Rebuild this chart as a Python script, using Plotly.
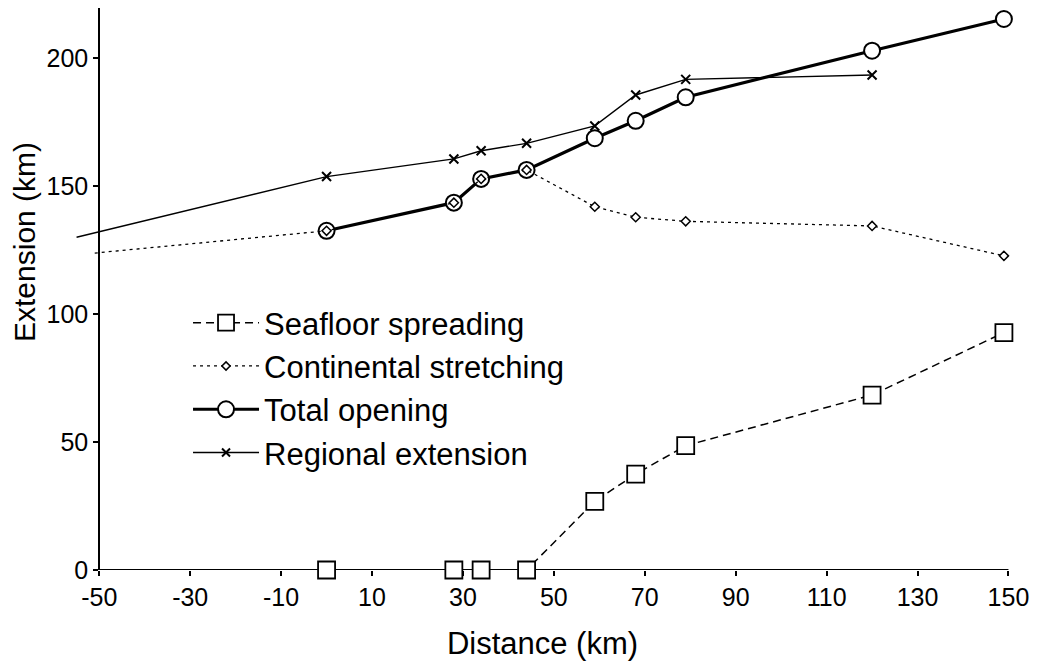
import plotly.graph_objects as go

# ---- data ----
x_seafloor = [0, 28, 34, 44, 59, 68, 79, 120, 149]
y_seafloor = [0, 0, 0, 0, 26.8, 37.5, 48.6, 68.4, 92.8]

x_continental = [-51, 0, 28, 34, 44, 59, 68, 79, 120, 149]
y_continental = [123.9, 132.6, 143.6, 152.9, 156.4, 142.0, 137.9, 136.3, 134.5, 122.8]

x_total = [0, 28, 34, 44, 59, 68, 79, 120, 149]
y_total = [132.6, 143.6, 152.9, 156.4, 168.8, 175.6, 184.8, 203.0, 215.4]

x_regional = [-55, 0, 28, 34, 44, 59, 68, 79, 120]
y_regional = [130.1, 153.8, 160.7, 163.9, 166.8, 173.6, 185.7, 191.8, 193.5]

x_ticks = [-50, -30, -10, 10, 30, 50, 70, 90, 110, 130, 150]
y_ticks = [0, 50, 100, 150, 200]

X_RANGE = [-56, 151]
Y_RANGE = [0, 219.7]
X_AXIS_START = -50
X_AXIS_END = 150

FONT = "Liberation Sans, Arial, Helvetica, sans-serif"


def sizes(xs, size):
    # no marker on line ends that run past the left axis
    return [0 if v < X_AXIS_START else size for v in xs]


fig = go.Figure()

fig.add_trace(go.Scatter(
    x=x_regional, y=y_regional, name="Regional extension", legendrank=4,
    mode="lines+markers",
    line=dict(color="black", width=1.4),
    marker=dict(symbol="x-thin", size=sizes(x_regional, 9), opacity=1,
                line=dict(color="black", width=2)),
    cliponaxis=False,
))
fig.add_trace(go.Scatter(
    x=x_total, y=y_total, name="Total opening", legendrank=3,
    mode="lines+markers",
    line=dict(color="black", width=3.2),
    marker=dict(symbol="circle", size=sizes(x_total, 16), color="white", opacity=1,
                line=dict(color="black", width=2)),
    cliponaxis=False,
))
fig.add_trace(go.Scatter(
    x=x_seafloor, y=y_seafloor, name="Seafloor spreading", legendrank=1,
    mode="lines+markers",
    line=dict(color="black", width=1.5, dash="8px,5px"),
    marker=dict(symbol="square", size=sizes(x_seafloor, 17), color="white", opacity=1,
                line=dict(color="black", width=1.8)),
    cliponaxis=False,
))
fig.add_trace(go.Scatter(
    x=x_continental, y=y_continental, name="Continental stretching", legendrank=2,
    mode="lines+markers",
    line=dict(color="black", width=1.3, dash="3px,4px"),
    marker=dict(symbol="diamond", size=sizes(x_continental, 7), color="white", opacity=1,
                line=dict(color="black", width=1.5)),
    cliponaxis=False,
))

# x-axis baseline spanning the labelled range
fig.add_shape(type="line", xref="x", yref="y", x0=X_AXIS_START, x1=X_AXIS_END, y0=0, y1=0,
              line=dict(color="black", width=2), layer="below")

yaxis_pos = (X_AXIS_START - X_RANGE[0]) / (X_RANGE[1] - X_RANGE[0])

fig.update_layout(
    width=1031, height=656, autosize=False,
    margin=dict(l=64, r=26, t=0, b=94, pad=0),
    paper_bgcolor="white", plot_bgcolor="white",
    font=dict(family=FONT, color="black", size=25),
    showlegend=True,
    legend=dict(
        x=0.1233, y=0.3238, xanchor="left", yanchor="middle",
        bgcolor="rgba(0,0,0,0)", borderwidth=0,
        font=dict(family=FONT, size=31, color="black"),
        tracegroupgap=0, itemsizing="trace", itemwidth=66,
    ),
    xaxis=dict(
        range=X_RANGE, tickmode="array", tickvals=x_ticks,
        ticktext=[str(v) for v in x_ticks],
        showline=False, showgrid=False, zeroline=False,
        ticks="outside", ticklen=5, tickwidth=2, tickcolor="black",
        tickfont=dict(family=FONT, size=25, color="black"),
        title=dict(text="Distance (km)", font=dict(family=FONT, size=31, color="black"), standoff=22),
        layer="below traces",
    ),
    yaxis=dict(
        range=Y_RANGE, tickmode="array", tickvals=y_ticks,
        ticktext=[str(v) for v in y_ticks],
        anchor="free", position=yaxis_pos,
        showline=True, linecolor="black", linewidth=2,
        showgrid=False, zeroline=False,
        ticks="outside", ticklen=5, tickwidth=2, tickcolor="black",
        tickfont=dict(family=FONT, size=25, color="black"),
        layer="below traces",
    ),
    annotations=[dict(
        text="Extension (km)", textangle=-90, showarrow=False,
        xref="paper", yref="paper", x=-0.0505, y=0.5845,
        xanchor="center", yanchor="middle",
        font=dict(family=FONT, size=30, color="black"),
    )],
)

fig.write_html("out.html")
